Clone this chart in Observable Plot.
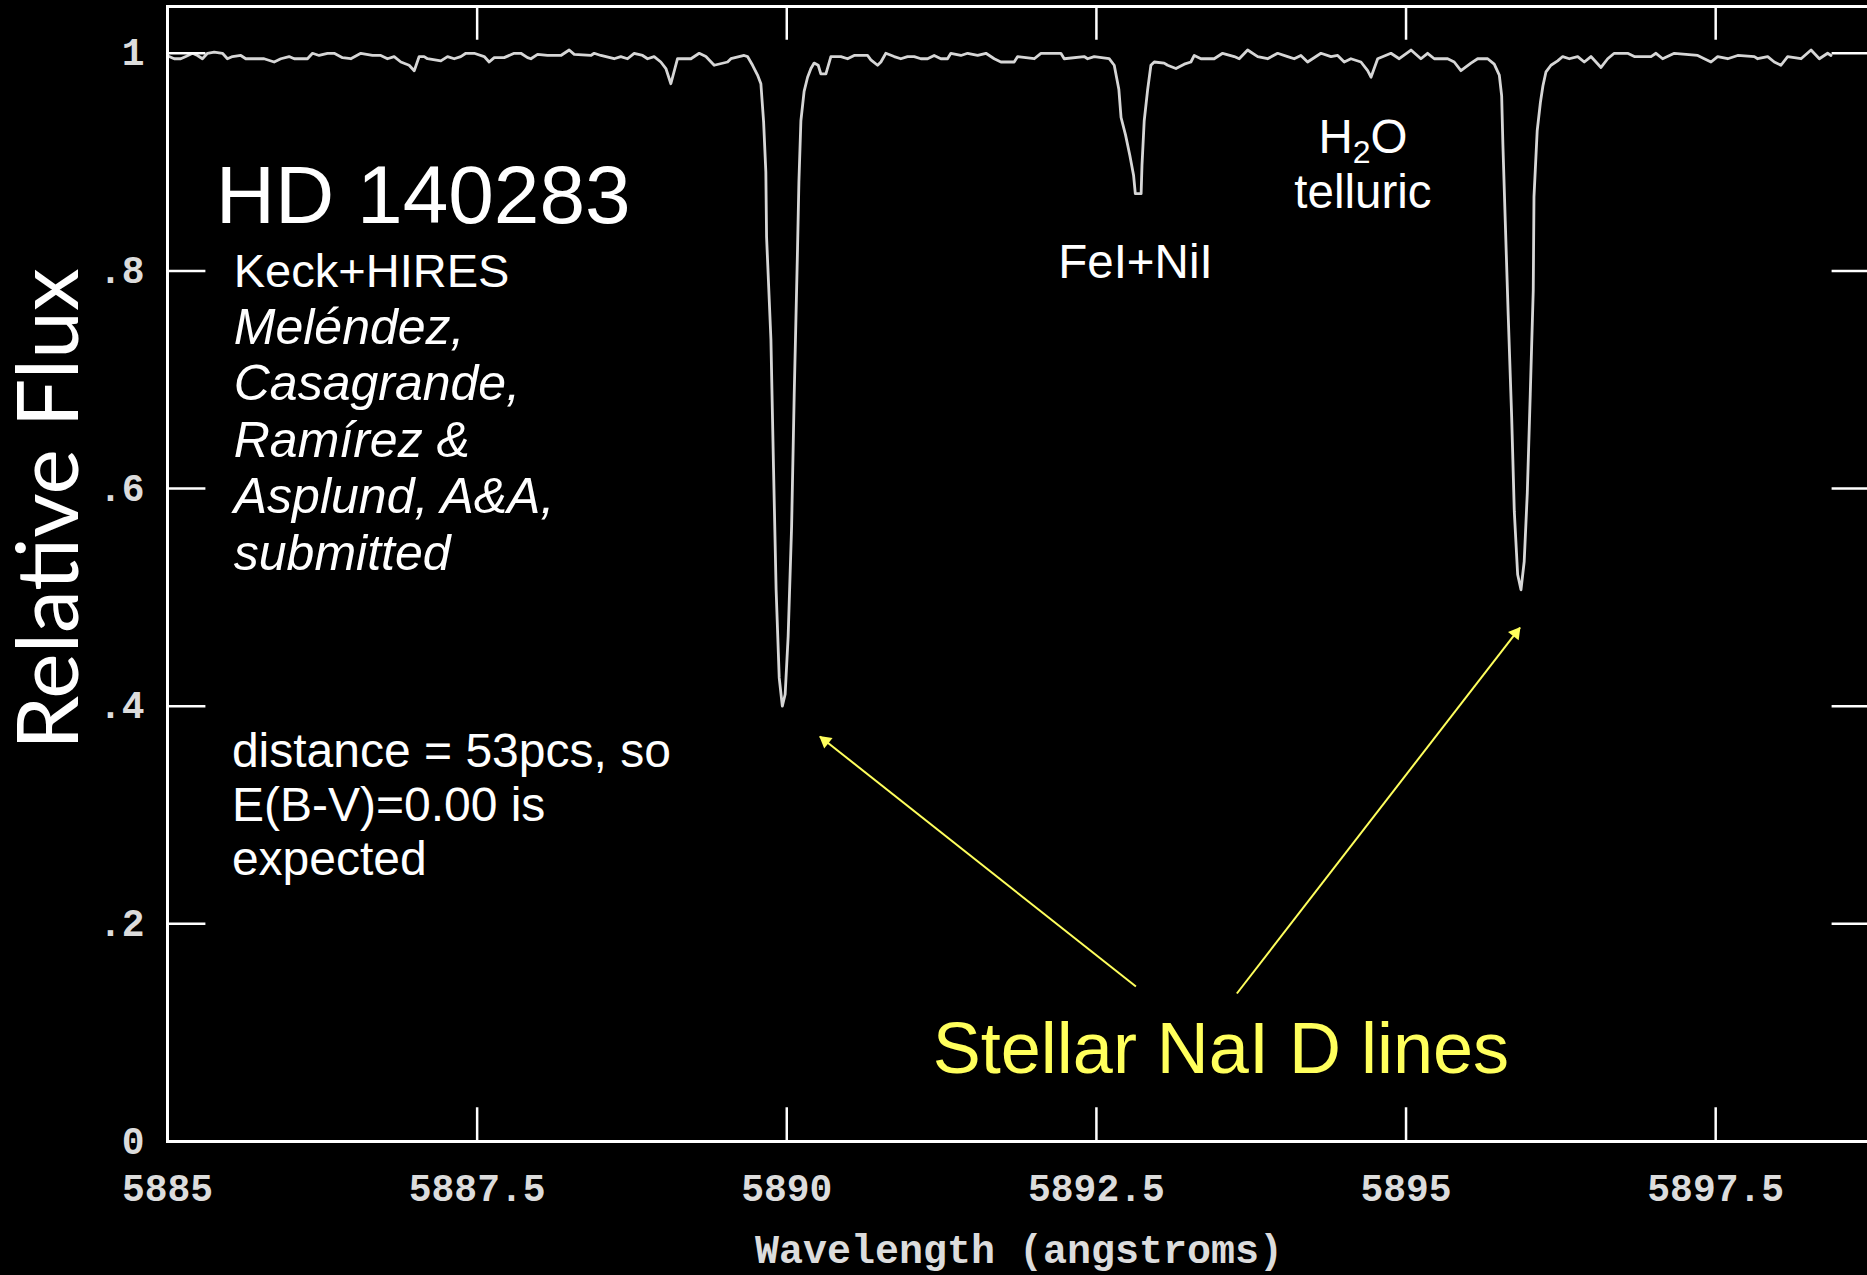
<!DOCTYPE html>
<html><head><meta charset="utf-8">
<script src="https://cdn.jsdelivr.net/npm/d3@7"></script>
<script src="https://cdn.jsdelivr.net/npm/@observablehq/plot@0.6"></script>
<style>
html,body{margin:0;padding:0;background:#000;overflow:hidden;}
#chart{width:1867px;height:1275px;}
</style></head><body><div id="chart"></div>
<script>
// ---- spectrum (wavelength in angstroms, relative flux) ----
const wavelength = [
5885.013,5885.054,5885.107,5885.148,5885.202,5885.242,5885.282,5885.323,5885.377,5885.444,
5885.484,5885.525,5885.592,5885.632,5885.727,5885.780,5885.861,5885.915,5885.982,5886.023,
5886.130,5886.171,5886.224,5886.292,5886.346,5886.413,5886.480,5886.561,5886.655,5886.722,
5886.776,5886.830,5886.884,5886.951,5886.992,5887.032,5887.072,5887.099,5887.207,5887.261,
5887.315,5887.368,5887.409,5887.476,5887.557,5887.597,5887.638,5887.718,5887.799,5887.853,
5887.907,5887.934,5887.988,5888.068,5888.176,5888.243,5888.284,5888.418,
5888.445,5888.499,5888.606,5888.660,5888.714,5888.768,5888.836,5888.876,5888.929,5888.983,
5889.024,5889.064,5889.118,5889.226,5889.293,5889.347,5889.414,5889.522,5889.549,5889.656,
5889.683,5889.724,5889.764,5889.791,5889.813,5889.831,5889.837,5889.872,5889.893,5889.914,
5889.939,5889.964,5889.987,5890.011,5890.039,5890.060,5890.087,5890.098,5890.114,5890.140,
5890.168,5890.195,5890.221,5890.254,5890.275,5890.316,5890.356,5890.437,5890.491,5890.544,
5890.652,5890.679,5890.733,5890.760,5890.800,5890.867,5890.921,5890.975,5891.029,5891.083,
5891.137,5891.190,5891.244,5891.298,5891.325,5891.406,5891.460,5891.541,5891.608,5891.675,
5891.729,5891.836,5891.864,5891.998,5892.052,5892.213,5892.240,5892.401,5892.429,5892.482,
5892.603,5892.644,5892.681,5892.699,5892.735,5892.770,5892.800,5892.814,5892.861,5892.868,
5892.886,5892.913,5892.940,5892.967,5893.047,5893.075,5893.142,5893.209,5893.263,5893.290,
5893.344,5893.451,5893.519,5893.613,5893.653,5893.721,5893.802,5893.882,5893.963,5894.044,
5894.097,5894.151,5894.205,5894.313,5894.394,5894.448,5894.501,5894.555,5894.636,5894.690,
5894.717,5894.771,5894.878,5894.945,5895.040,5895.120,5895.174,5895.228,5895.336,5895.389,
5895.443,5895.524,5895.578,5895.659,5895.712,5895.753,5895.772,5895.782,5895.801,5895.825,
5895.853,5895.874,5895.901,5895.928,5895.954,5895.979,5896.003,5896.027,5896.033,5896.059,
5896.085,5896.105,5896.130,5896.170,5896.224,5896.265,5896.318,5896.386,5896.439,5896.493,
5896.574,5896.628,5896.681,5896.789,5896.843,5896.978,5897.018,5897.072,5897.166,5897.355,
5897.408,5897.462,5897.516,5897.597,5897.678,5897.812,5897.839,5897.920,5897.973,5898.027,
5898.081,5898.189,5898.270,5898.337,5898.404,5898.431
];
const flux = [
0.997,0.995,0.995,0.997,1.000,0.998,0.995,1.000,1.001,1.000,
0.995,0.997,0.998,0.995,0.995,0.995,0.992,0.995,0.997,0.995,
0.995,1.000,0.998,1.000,1.000,0.996,0.995,1.000,0.998,0.998,
0.995,0.997,0.992,0.989,0.984,0.997,0.997,0.995,0.993,0.997,
0.995,0.997,1.000,1.000,0.997,0.992,0.996,0.996,1.000,1.000,
0.996,0.995,0.999,0.998,0.998,1.003,0.999,0.998,
1.000,0.998,0.995,0.997,0.995,1.000,0.998,0.995,0.997,0.992,
0.986,0.972,0.995,0.995,1.000,0.997,0.989,0.992,0.995,0.998,
0.997,0.989,0.980,0.972,0.937,0.891,0.831,0.737,0.619,0.507,
0.426,0.400,0.411,0.464,0.565,0.686,0.821,0.882,0.938,0.965,
0.978,0.986,0.991,0.989,0.981,0.981,0.997,0.997,0.995,0.998,
0.998,0.994,0.989,0.992,1.000,0.997,0.995,0.997,0.997,0.995,
0.995,0.998,0.995,0.995,1.000,0.998,1.000,0.998,1.000,0.995,
0.992,0.992,0.997,0.995,1.000,1.000,0.995,0.997,0.995,0.997,
0.995,0.989,0.967,0.941,0.925,0.906,0.888,0.871,0.871,0.897,
0.938,0.966,0.989,0.992,0.991,0.989,0.986,0.990,0.992,0.998,
0.995,0.995,1.000,0.997,0.995,1.003,0.997,0.995,1.000,0.997,
0.995,0.998,0.992,1.000,0.997,0.998,0.992,0.995,0.992,0.984,
0.978,0.995,1.000,0.995,1.003,0.995,1.000,0.995,0.995,0.992,
0.984,0.991,0.995,0.995,0.990,0.980,0.961,0.916,0.846,0.759,
0.665,0.579,0.521,0.507,0.533,0.596,0.687,0.782,0.868,0.929,
0.955,0.970,0.983,0.989,0.993,0.997,0.995,0.997,0.992,0.997,
0.987,0.995,1.000,1.000,0.997,0.997,1.000,0.995,1.000,0.998,
0.995,0.992,0.997,0.995,0.998,0.997,0.995,0.997,0.992,0.989,
0.997,0.995,1.003,0.995,1.000,0.998
];

// ---- axes ----
const xTicks = [5885, 5887.5, 5890, 5892.5, 5895, 5897.5];
const xTickLabels = ["5885", "5887.5", "5890", "5892.5", "5895", "5897.5"];
const yTicks = [0, 0.2, 0.4, 0.6, 0.8, 1];
const yTickLabels = ["0", ".2", ".4", ".6", ".8", "1"];
const xTitle = "Wavelength (angstroms)";
const yTitle = "Relative Flux";

// ---- annotations (anchored in data coordinates) ----
const starName = {text: "HD 140283", x: 5885.39, y: 0.8445};
const instrument = {text: "Keck+HIRES", x: 5885.535, y: 0.7848};
const reference = {text: "Meléndez,\nCasagrande,\nRamírez &\nAsplund, A&A,\nsubmitted", x: 5885.535, y: 0.5256};
const distanceNote = {text: "distance = 53pcs, so\nE(B-V)=0.00 is\nexpected", x: 5885.52, y: 0.2449};
const lineLabels = [
  {text: "FeI+NiI", x: 5892.815, y: 0.7931},
  {text: "H2O", x: 5894.652, y: 0.9088},
  {text: "telluric", x: 5894.652, y: 0.8574}
];
const naLabel = {text: "Stellar NaI D lines", x: 5893.505, y: 0.0634};
const naArrows = [
  {x1: 5892.819, y1: 0.1424, x2: 5890.267, y2: 0.3722},
  {x1: 5893.634, y1: 0.1360, x2: 5895.920, y2: 0.4723}
];

const spectrum = wavelength.map((w, i) => ({w, f: flux[i]}));
const xDomain = [5885, 5898.75];
const yDomain = [0, 1.043];
const xTickLen = 0.031;   // inward tick length (flux units)
const yTickLen = 0.31;    // inward tick length (angstroms)

// layout (pixels)
const W = 1867, H = 1275;
const M = {left: 167, right: -3, top: 6, bottom: 134};
// screen-space helpers to orient the filled arrow heads
const sx = d3.scaleLinear(xDomain, [M.left, W - M.right]);
const sy = d3.scaleLinear(yDomain, [H - M.bottom, M.top]);
const headBack = 7; // px from tip back to the triangle centroid
const arrowHeads = naArrows.map(a => {
  const dx = sx(a.x2) - sx(a.x1), dy = sy(a.y2) - sy(a.y1);
  const len = Math.hypot(dx, dy);
  return {
    x: sx.invert(sx(a.x2) - dx / len * headBack),
    y: sy.invert(sy(a.y2) - dy / len * headBack),
    angle: Math.atan2(dx, -dy) * 180 / Math.PI
  };
});

const tickFont = {fontFamily: "Liberation Mono", fontWeight: "bold", fontSize: 38, fill: "#dcdcdc"};
const sans = {fontFamily: "Liberation Sans", fill: "#ffffff"};
const yellow = "#ffff5c";

const plot = Plot.plot({
  width: W, height: H,
  marginLeft: M.left, marginRight: M.right, marginTop: M.top, marginBottom: M.bottom,
  style: {background: "#000", color: "#fff"},
  x: {domain: xDomain, axis: null},
  y: {domain: yDomain, axis: null},
  marks: [
    Plot.line(spectrum, {x: "w", y: "f", stroke: "#d6d6d6", strokeWidth: 2.8}),
    Plot.frame({stroke: "#fff", strokeWidth: 3}),
    Plot.ruleX(xTicks, {x: d => d, y1: yDomain[0], y2: yDomain[0] + xTickLen, stroke: "#fff", strokeWidth: 2.5}),
    Plot.ruleX(xTicks, {x: d => d, y1: yDomain[1] - xTickLen, y2: yDomain[1], stroke: "#fff", strokeWidth: 2.5}),
    Plot.ruleY(yTicks, {y: d => d, x1: xDomain[0], x2: xDomain[0] + yTickLen, stroke: "#fff", strokeWidth: 2.5}),
    Plot.ruleY(yTicks, {y: d => d, x1: xDomain[1] - yTickLen, x2: xDomain[1], stroke: "#fff", strokeWidth: 2.5}),
    Plot.text(xTicks, {x: d => d, y: yDomain[0], text: (d, i) => xTickLabels[i], dy: 47, lineAnchor: "middle", textAnchor: "middle", ...tickFont}),
    Plot.text(yTicks, {frameAnchor: "left", y: d => d, text: (d, i) => yTickLabels[i], dx: -23, lineAnchor: "middle", textAnchor: "end", ...tickFont}),
    Plot.text([xTitle], {frameAnchor: "bottom", text: d => d, dy: 109, lineAnchor: "middle", textAnchor: "middle", fontFamily: "Liberation Mono", fontWeight: "bold", fontSize: 40, fill: "#dcdcdc"}),
    Plot.text([yTitle], {frameAnchor: "left", text: d => d, rotate: -90, dx: -117, dy: -65, lineAnchor: "middle", textAnchor: "middle", fontFamily: "Lato", fontSize: 86, fill: "#fff"}),
    Plot.text([starName], {x: "x", y: "y", text: "text", textAnchor: "start", lineAnchor: "bottom", fontSize: 82, ...sans}),
    Plot.text([instrument], {x: "x", y: "y", text: "text", textAnchor: "start", lineAnchor: "bottom", fontSize: 47, ...sans}),
    Plot.text([reference], {x: "x", y: "y", text: "text", textAnchor: "start", lineAnchor: "bottom", fontSize: 50, fontStyle: "italic", lineHeight: 1.128, ...sans}),
    Plot.text([distanceNote], {x: "x", y: "y", text: "text", textAnchor: "start", lineAnchor: "bottom", fontSize: 48, lineHeight: 1.12, ...sans}),
    Plot.text(lineLabels, {x: "x", y: "y", text: "text", textAnchor: "middle", lineAnchor: "bottom", fontSize: 47.5, ...sans}),
    Plot.link(naArrows, {x1: "x1", y1: "y1", x2: "x2", y2: "y2", stroke: yellow, strokeWidth: 2}),
    Plot.dot(arrowHeads, {x: "x", y: "y", rotate: "angle", symbol: "triangle", r: 5, fill: yellow, stroke: "none"}),
    Plot.text([naLabel], {x: "x", y: "y", text: "text", textAnchor: "middle", lineAnchor: "bottom", fontSize: 72, fontFamily: "Liberation Sans", fill: yellow})
  ]
});

// subscript the 2 of H2O
const SVGNS = "http://www.w3.org/2000/svg";
for (const t of plot.querySelectorAll("text")) {
  if (t.textContent === "H2O") {
    t.textContent = "H";
    const sub = document.createElementNS(SVGNS, "tspan");
    sub.setAttribute("font-size", "32");
    sub.setAttribute("dy", "10");
    sub.textContent = "2";
    const o = document.createElementNS(SVGNS, "tspan");
    o.setAttribute("dy", "-10");
    o.textContent = "O";
    t.append(sub, o);
  }
}
document.getElementById("chart").appendChild(plot);
</script></body></html>
